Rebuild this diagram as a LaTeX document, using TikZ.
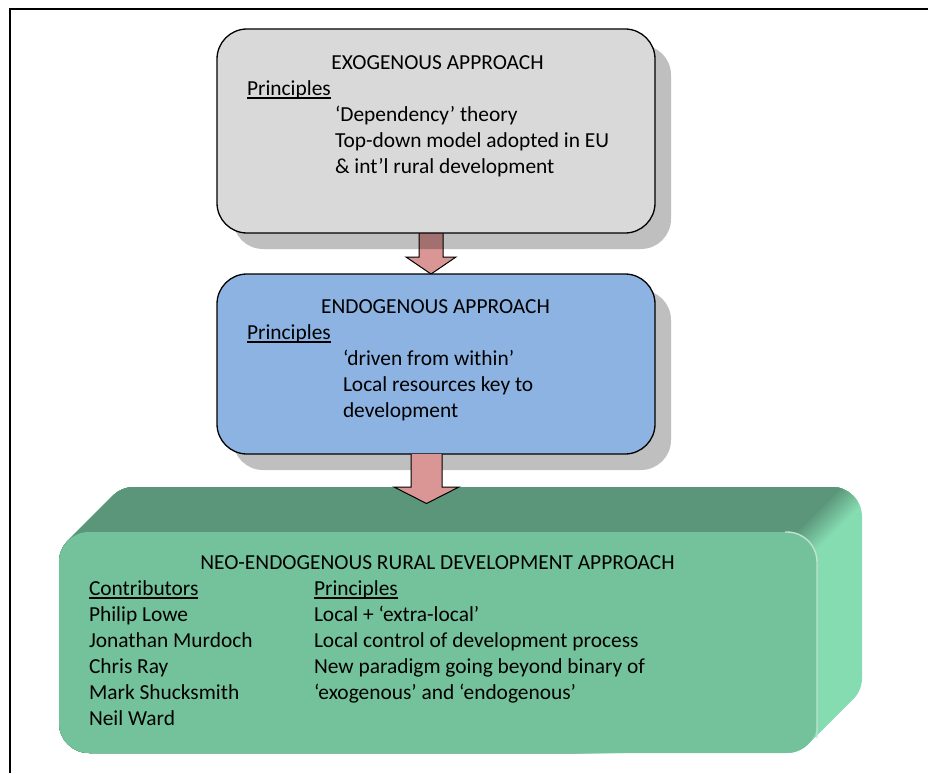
\documentclass[tikz,border=0pt]{standalone}
\usepackage{fontspec}
\setmainfont{Carlito}
\usetikzlibrary{calc,shadows}
\definecolor{exofill}{HTML}{D9D9D9}
\definecolor{endofill}{HTML}{8DB3E2}
\definecolor{arrowfill}{HTML}{D99694}
\definecolor{frontg}{HTML}{74C29B}
\definecolor{topg}{HTML}{5B967A}
\definecolor{sideg}{HTML}{86DCB1}
% underline that runs through descenders, as in a word processor
\newcommand\wordul[1]{\sbox0{#1}\rlap{\rule[-3.2pt]{\wd0}{1.3pt}}\usebox0}
\pgfdeclarelayer{under}
\pgfsetlayers{under,main}
\begin{document}
\begin{tikzpicture}[x=1pt,y=-1pt,
  every node/.style={inner sep=0pt, outer sep=0pt, font=\fontsize{21.4}{26}\selectfont},
  panel/.style={draw=black, line width=1.3pt, rounded corners=30pt, minimum width=438pt,
    drop shadow={shadow xshift=16pt, shadow yshift=-16pt, fill=black, opacity=0.25}},
  blockarrow/.style={fill=arrowfill},
  arrowline/.style={draw=black, line width=1pt, line join=miter},
  frame/.style={draw=black, line width=2pt}]
\useasboundingbox (0,0) rectangle (928,773);

% page frame
\draw[frame] (9.5,773) -- (9.5,9.5) -- (928,9.5);

% ---- 3D green panel: outline of the extruded solid, faces painted inside it ----
\begin{scope}
  \clip (67.8,540.8) -- (112.8,495.8) arc[start angle=225, end angle=270, radius=30]
    -- (832,487) arc[start angle=270, end angle=360, radius=30]
    -- (862,678) arc[start angle=0, end angle=45, radius=30]
    -- (808.2,744.2) arc[start angle=45, end angle=90, radius=30]
    -- (89,753) arc[start angle=90, end angle=180, radius=30]
    -- (59,562) arc[start angle=180, end angle=225, radius=30] -- cycle;
  \fill[sideg] (0,0) rectangle (928,773);
  \foreach \i in {0,...,10}{%
    \pgfmathtruncatemacro\c{1369-4*\i}%
    \pgfmathtruncatemacro\p{10*\i}%
    \fill[topg!\p!sideg] (0,0) -- (\c,0) -- (0,\c) -- cycle;}
\end{scope}
\node[fill=frontg, rounded corners=30pt, minimum width=758pt, minimum height=221pt] (neo) at (438,642.5) {};
\draw[white!55!frontg, line width=1.4pt, rounded corners=30pt] (785,532) -- (817,532) -- (817,738);

% ---- upper panels ----
\node[panel, fill=exofill, minimum height=204pt] (exo) at (436,131) {};
\node[panel, fill=endofill, minimum height=180pt] (endo) at (436,364) {};

% first block arrow (runs under the exogenous panel and its shadow)
\begin{pgfonlayer}{under}
  \coordinate (t1) at ($(endo.north)+(-5,0)$);
  \path[blockarrow, arrowline]
    ($(t1)+(-12,-74)$) -- ($(t1)+(-12,-17)$) -- ($(t1)+(-25,-17)$) -- (t1)
    -- ($(t1)+(25,-17)$) -- ($(t1)+(12,-17)$) -- ($(t1)+(12,-74)$) -- cycle;
\end{pgfonlayer}

% second block arrow, from the endogenous panel onto the green panel
\coordinate (t2) at ($(endo.south)+(-9.5,49.5)$);
\fill[blockarrow]
  ($(t2)+(-15.5,-49.5)$) -- ($(t2)+(-15.5,-16.5)$) -- ($(t2)+(-32.5,-16.5)$) -- (t2)
  -- ($(t2)+(32.5,-16.5)$) -- ($(t2)+(15.5,-16.5)$) -- ($(t2)+(15.5,-49.5)$) -- cycle;
\draw[arrowline]
  ($(t2)+(-15.5,-49.5)$) -- ($(t2)+(-15.5,-16.5)$) -- ($(t2)+(-32.5,-16.5)$) -- (t2)
  -- ($(t2)+(32.5,-16.5)$) -- ($(t2)+(15.5,-16.5)$) -- ($(t2)+(15.5,-49.5)$);

% ---- texts: exogenous ----
\node[anchor=base] (exo-title) at (437.5,69.5) {EXOGENOUS APPROACH};
\node[anchor=base west] (exo-prin) at (247,95.5) {\wordul{Principles}};
\foreach \t [count=\k] in {{‘Dependency’ theory},{Top-down model adopted in EU},{\& int’l rural development}}
  \node[anchor=base west] (exo-l\k) at (335,{95.5+26*\k}) {\t};

% ---- texts: endogenous ----
\node[anchor=base] (endo-title) at (435.5,313.5) {ENDOGENOUS APPROACH};
\node[anchor=base west] (endo-prin) at (247,339.5) {\wordul{Principles}};
\foreach \t [count=\k] in {{‘driven from within’},{Local resources key to},{development}}
  \node[anchor=base west] (endo-l\k) at (343,{339.5+26*\k}) {\t};

% ---- texts: neo-endogenous ----
\node[anchor=base] (neo-title) at (437.5,569.5) {NEO-ENDOGENOUS RURAL DEVELOPMENT APPROACH};
\node[anchor=base west] (neo-contrib) at (89,595.5) {\wordul{Contributors}};
\node[anchor=base west] (neo-prin) at (314,595.5) {\wordul{Principles}};
\foreach \t [count=\k] in {{Philip Lowe},{Jonathan Murdoch},{Chris Ray},{Mark Shucksmith},{Neil Ward}}
  \node[anchor=base west] (neo-c\k) at (89,{595.5+26*\k}) {\t};
\foreach \t [count=\k] in {{Local + ‘extra-local’},{Local control of development process},{New paradigm going beyond binary of},{‘exogenous’ and ‘endogenous’}}
  \node[anchor=base west] (neo-p\k) at (314,{595.5+26*\k}) {\t};
\end{tikzpicture}
\end{document}
